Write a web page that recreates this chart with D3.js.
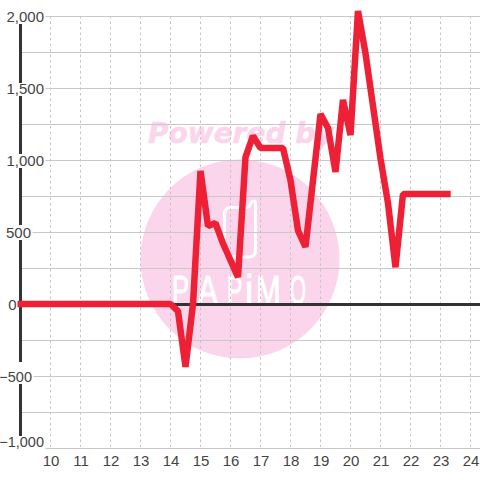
<!DOCTYPE html>
<html><head><meta charset="utf-8">
<script src="https://cdn.jsdelivr.net/npm/d3@7"></script>
<style>html,body{margin:0;padding:0;background:#fff}svg{display:block}</style></head>
<body><svg id="c" width="480" height="480"></svg>
<script>
const xTicks = [10,11,12,13,14,15,16,17,18,19,20,21,22,23,24];
const yGrid = [-1000,-750,-500,-250,0,250,500,750,1000,1250,1500,1750,2000];
const yLabels = [-1000,-500,0,500,1000,1500,2000];
const xVals = [8.9,14,14.25,14.5,14.75,15,15.25,15.5,15.75,16.25,16.5,16.75,17,17.75,18,18.25,18.5,19,19.25,19.5,19.75,20,20.25,20.5,21,21.25,21.5,21.75,23.34];
const yVals = [0,0,-50,-437,0,924,542,562,420,187,1020,1167,1083,1083,860,510,396,1319,1222,917,1417,1174,2035,1740,1010,700,255,764,764];

const svg = d3.select('#c');
const x = d3.scaleLinear().domain([10,24]).range([50.5,470.5]);
const y = d3.scaleLinear().domain([-1000,2000]).range([448,16]);
const px = v => Math.round(y(v));
const pink = '#fbd5ec';

// watermark
const wm = svg.append('g');
wm.append('circle').attr('cx',240).attr('cy',259).attr('r',99.5).attr('fill',pink);
wm.append('text').text('Powered by').attr('x',148).attr('y',143)
  .attr('font-family','DejaVu Sans').attr('font-weight','bold').attr('font-style','italic')
  .attr('font-size',28).attr('fill',pink).attr('stroke',pink).attr('stroke-width',0.5);
wm.append('path').attr('d','M231,207.5 H246 Q249,207.5 250,205 L251,203 Q252,201 254,201 Q255.5,201 255.5,203 V250 Q255.5,257 249,257 H231 Q224.5,257 224.5,250 V214 Q224.5,207.5 231,207.5 Z')
  .attr('fill','none').attr('stroke','#fff').attr('stroke-width',3);
const logoLetters = ['P','A','P','i','M','O'];
const logoX = [172,198,227,245,256,290];
const logoScale = [0.62,0.72,0.56,0.9,0.72,0.5];
wm.append('g').selectAll('text').data(logoLetters).join('text').text(d=>d)
  .attr('transform',(d,i)=>`translate(${logoX[i]},304) scale(${logoScale[i]},1)`)
  .attr('font-family','Liberation Sans').attr('font-size',41).attr('fill','#fff')
  .attr('stroke','#fff').attr('stroke-width',1);

// grid
svg.append('g').selectAll('line').data(xTicks).join('line')
  .attr('x1',d=>x(d)).attr('x2',d=>x(d)).attr('y1',16).attr('y2',447)
  .attr('stroke','#c4c4c4').attr('stroke-dasharray','2.5 3');
svg.append('g').selectAll('line').data(yGrid).join('line')
  .attr('x1',22).attr('x2',480).attr('y1',d=>px(d)+.5).attr('y2',d=>px(d)+.5)
  .attr('stroke','#c8c8c8');

// axes
svg.append('rect').attr('x',19).attr('y',16).attr('width',3).attr('height',420).attr('fill','#333');
svg.append('rect').attr('x',19).attr('y',y(0)-1).attr('width',461).attr('height',3).attr('fill','#333');

// y labels
const fmt = d3.format(',');
const right = v => Math.abs(v)>=1000 ? 44 : (v===0 ? 16.5 : (v<0 ? 32 : 31));
const boxTop = new Map([[2000,-8],[1500,-5],[1000,-6],[500,-7],[0,-7],[-500,-14],[-1000,-12]]);
const boxBottom = v => v===-1000 ? 1.5 : 8;
const labelDy = v => v===-1000 ? -1 : 5.7;
const gl = svg.append('g').selectAll('g').data(yLabels).join('g');
gl.append('rect').attr('x',0).attr('y',d=>y(d)+boxTop.get(d))
  .attr('width',d=>right(d)+1.5).attr('height',d=>boxBottom(d)-boxTop.get(d)).attr('fill','#fff');
gl.append('text').text(d=>fmt(d)).attr('x',d=>right(d)).attr('y',d=>y(d)+labelDy(d))
  .attr('text-anchor','end').attr('font-family','Liberation Sans').attr('font-size',d=>d<0?14.5:15).attr('fill','#444');

// x labels
svg.append('g').selectAll('text').data(xTicks).join('text').text(d=>d)
  .attr('x',d=>x(d)+0.5).attr('y',466).attr('text-anchor','middle')
  .attr('font-family','Liberation Sans').attr('font-size',15).attr('fill','#444');

// series
const line = d3.line().x((d,i)=>x(xVals[i])).y(d=>y(d));
svg.append('path').datum(yVals).attr('d',line).attr('fill','none')
  .attr('stroke','#ee2035').attr('stroke-width',6.5).attr('stroke-linejoin','bevel');
</script></body></html>
